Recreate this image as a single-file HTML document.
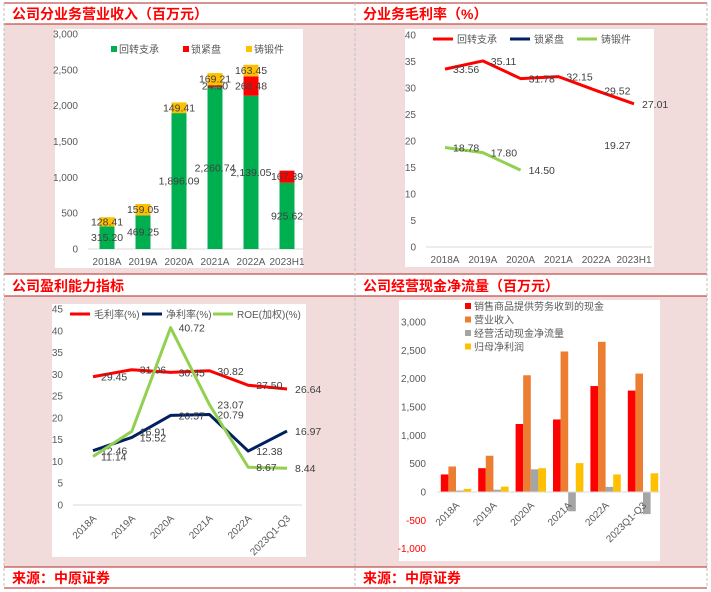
<!DOCTYPE html>
<html><head><meta charset="utf-8"><style>
body{margin:0;background:#fff;}
svg{display:block;font-family:"Liberation Sans","Noto Sans CJK SC",sans-serif;}
.tk{font-size:10px;fill:#595959;}
.ttl{font-size:14px;font-weight:bold;fill:#ff0000;}
.lbl{font-size:10.5px;fill:#404040;}
</style></head><body>
<svg id="s" width="711" height="592" xmlns="http://www.w3.org/2000/svg">
<rect x="4" y="24" width="703" height="250" fill="#f2dcdb"/>
<rect x="4" y="296" width="703" height="271" fill="#f2dcdb"/>
<g stroke="#c0504d" stroke-width="1.3">
<line x1="4" y1="3" x2="707" y2="3"/><line x1="4" y1="24" x2="707" y2="24"/>
<line x1="4" y1="274" x2="707" y2="274"/><line x1="4" y1="296" x2="707" y2="296"/>
<line x1="4" y1="567" x2="707" y2="567"/><line x1="4" y1="588" x2="707" y2="588"/>
</g>
<g stroke="#bfbfbf" stroke-dasharray="3,2">
<line x1="4" y1="3" x2="4" y2="588"/><line x1="355" y1="3" x2="355" y2="588"/><line x1="707" y1="3" x2="707" y2="588"/>
</g>
<text class="ttl" x="12" y="19">公司分业务营业收入（百万元）</text>
<text class="ttl" x="363" y="19">分业务毛利率（%）</text>
<text class="ttl" x="12" y="291">公司盈利能力指标</text>
<text class="ttl" x="363" y="291">公司经营现金净流量（百万元）</text>
<text class="ttl" x="12" y="583">来源：中原证券</text>
<text class="ttl" x="363" y="583">来源：中原证券</text>
<rect x="55" y="29" width="248" height="239" fill="#fff"/>
<rect x="405" y="29" width="249" height="238" fill="#fff"/>
<rect x="52" y="304" width="254" height="253" fill="#fff"/>
<rect x="399" y="300" width="261" height="261" fill="#fff"/>
<g id="g"></g>
</svg>
<script>
// Chart 1
const c1Cats=["2018A","2019A","2020A","2021A","2022A","2023H1"];
const c1Slew=[315.20,469.25,1896.09,2260.74,2139.05,925.62];
const c1Lock=[0,0,0,24.50,268.48,167.39];
const c1Forge=[128.41,159.05,149.41,169.21,163.45,0];
const c1Ticks=[0,500,1000,1500,2000,2500,3000];
// Chart 2
const c2Cats=["2018A","2019A","2020A","2021A","2022A","2023H1"];
const c2Slew=[33.56,35.11,31.78,32.15,29.52,27.01];
const c2Lock=[null,null,null,null,19.27,null];
const c2Forge=[18.78,17.80,14.50,null,null,null];
const c2Ticks=[0,5,10,15,20,25,30,35,40];
// Chart 3
const c3Cats=["2018A","2019A","2020A","2021A","2022A","2023Q1-Q3"];
const c3Gross=[29.45,31.06,30.45,30.82,27.50,26.64];
const c3Net=[12.46,15.52,20.57,20.79,12.38,16.97];
const c3Roe=[11.14,16.91,40.72,23.07,8.67,8.44];
const c3Ticks=[0,5,10,15,20,25,30,35,40,45];
// Chart 4
const c4Cats=["2018A","2019A","2020A","2021A","2022A","2023Q1-Q3"];
const c4Cash=[310,420,1200,1280,1870,1790];
const c4Rev=[450,640,2060,2480,2650,2090];
const c4Ocf=[25,40,400,-340,90,-390];
const c4Np=[55,95,420,510,310,330];
const c4Ticks=[-1000,-500,0,500,1000,1500,2000,2500,3000];

const NS="http://www.w3.org/2000/svg";
const G=document.getElementById('g');
function mk(t,a,txt){const e=document.createElementNS(NS,t);for(const k in a)e.setAttribute(k,a[k]);if(txt!==undefined)e.textContent=txt;G.appendChild(e);return e;}
function fmt(v){return v.toLocaleString('en-US',{minimumFractionDigits:2,maximumFractionDigits:2});}
function fmt0(v){return v.toLocaleString('en-US');}

// ---- Chart 1
{const y=v=>249-v*(215/3000), x=i=>107+i*36, bw=15;
c1Ticks.forEach(t=>{const e=mk('text',{x:78,y:y(t)+3.5,'text-anchor':'end',class:'tk'},fmt0(t));

});
mk('line',{x1:88,y1:249,x2:303,y2:249,stroke:'#d9d9d9'});
c1Cats.forEach((c,i)=>{let b=0;
[[c1Slew,'#00b050'],[c1Lock,'#ff0000'],[c1Forge,'#ffc000']].forEach(([arr,col],k)=>{const v=arr[i];if(!v)return;
const r=mk('rect',{x:x(i)-bw/2,y:y(b+v),width:bw,height:y(b)-y(b+v),fill:col});


const t=mk('text',{x:x(i),y:y(b+v/2)+3.5,'text-anchor':'middle',class:'lbl'},fmt(v));


b+=v;});
const t=mk('text',{x:x(i),y:265,'text-anchor':'middle',class:'tk'},c);

});
[['回转支承','#00b050',111],['锁紧盘','#ff0000',183],['铸锻件','#ffc000',246]].forEach(([n,c,lx])=>{
const r=mk('rect',{x:lx,y:46,width:6,height:6,fill:c});


mk('text',{x:lx+8,y:53,class:'tk'},n);});}

function lineChart(cfg){
const {y0,pxPer,x0,step,series,cats,ticks,tickX,ax1,ax2,pre,rot}=cfg;
const y=v=>y0-v*pxPer,x=i=>x0+i*step;
ticks.forEach(t=>{const e=mk('text',{x:tickX,y:y(t)+3.5,'text-anchor':'end',class:'tk'},t);

});
mk('line',{x1:ax1,y1:y0,x2:ax2,y2:y0,stroke:'#d9d9d9'});
cats.forEach((c,i)=>{let e;
if(rot)e=mk('text',{x:x(i)+4,y:y0+14,'text-anchor':'end',class:'tk',transform:`rotate(-45 ${x(i)+4} ${y0+14})`},c);
else e=mk('text',{x:x(i),y:y0+16,'text-anchor':'middle',class:'tk'},c);

});
series.forEach(([arr,col,nm])=>{let d='';arr.forEach((v,i)=>{if(v==null)return;d+=(d?'L':'M')+x(i)+','+y(v);});
const p=mk('path',{d,fill:'none',stroke:col,'stroke-width':3,'stroke-linejoin':'round'});


arr.forEach((v,i)=>{if(v==null)return;const t=mk('text',{x:x(i)+8,y:y(v)+4,class:'lbl'},v.toFixed(2));

});});
cfg.legend.forEach(([n,c,lx,ly])=>{const l=mk('line',{x1:lx,y1:ly,x2:lx+20,y2:ly,stroke:c,'stroke-width':3});


mk('text',{x:lx+24,y:ly+4,class:'tk'},n);});}

lineChart({y0:247,pxPer:212/40,x0:445,step:37.8,cats:c2Cats,ticks:c2Ticks,tickX:416,ax1:426,ax2:652,pre:'c2',
series:[[c2Slew,'#ff0000','slew'],[c2Lock,'#002060','lock'],[c2Forge,'#92d050','forge']],
legend:[['回转支承','#ff0000',433,39],['锁紧盘','#002060',510,39],['铸锻件','#92d050',577,39]]});

lineChart({y0:505,pxPer:196/45,x0:93,step:38.8,cats:c3Cats,ticks:c3Ticks,tickX:63,ax1:73,ax2:302,pre:'c3',rot:true,
series:[[c3Gross,'#ff0000','gross'],[c3Net,'#002060','net'],[c3Roe,'#92d050','roe']],
legend:[['毛利率(%)','#ff0000',70,314],['净利率(%)','#002060',142,314],['ROE(加权)(%)','#92d050',213,314]]});

// ---- Chart 4
{const y=v=>492-v*(170/3000), x=i=>456+i*37.4, bw=7.6;
c4Ticks.forEach(t=>{const e=mk('text',{x:426,y:y(t)+3.5,'text-anchor':'end',class:'tk',fill:t<0?'#ff0000':'#595959',style:t<0?'fill:#ff0000':''},fmt0(t));

});
const ser=[[c4Cash,'#ff0000'],[c4Rev,'#ed7d31'],[c4Ocf,'#a5a5a5'],[c4Np,'#ffc000']];
c4Cats.forEach((c,i)=>{ser.forEach(([arr,col],k)=>{const v=arr[i];
const r=mk('rect',{x:x(i)-2*bw+k*bw,y:Math.min(y(v),y(0)),width:bw,height:Math.abs(y(v)-y(0)),fill:col});

});
const e=mk('text',{x:x(i)+4,y:506,'text-anchor':'end',class:'tk',transform:`rotate(-45 ${x(i)+4} 506)`},c);

});
mk('line',{x1:437,y1:492,x2:660,y2:492,stroke:'#d9d9d9'});
[['销售商品提供劳务收到的现金','#ff0000'],['营业收入','#ed7d31'],['经营活动现金净流量','#a5a5a5'],['归母净利润','#ffc000']].forEach(([n,c],k)=>{
const r=mk('rect',{x:465,y:303+k*13.5,width:6,height:6,fill:c});


mk('text',{x:474,y:310+k*13.5,class:'tk'},n);});}
</script>
</body></html>
